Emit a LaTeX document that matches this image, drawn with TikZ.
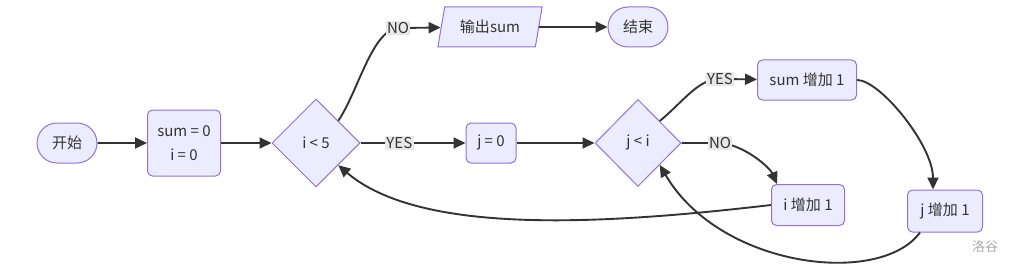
\documentclass[tikz,border=0pt]{standalone}
\usepackage{fontspec}
\setmainfont{Noto Sans CJK SC}
\usetikzlibrary{shapes.geometric,shapes.misc,arrows.meta}
\definecolor{nfill}{HTML}{ECECFF}
\definecolor{nbord}{HTML}{9370DB}
\definecolor{ink}{HTML}{333333}
\definecolor{lblbg}{HTML}{E8E8E8}
\begin{document}
\begin{tikzpicture}[x=1pt,y=-1pt, font=\fontsize{15}{24}\selectfont, text=ink,
 base/.style={draw=nbord, fill=nfill, line width=1pt, inner sep=0pt},
 boxn/.style={base, rectangle, rounded corners=5pt},
 term/.style={base, rounded rectangle, minimum width=60pt, minimum height=40pt},
 dec/.style={base, diamond, minimum width=88pt, minimum height=88pt},
 io/.style={base, trapezium, trapezium stretches=true, trapezium left angle=72, trapezium right angle=108, minimum width=105pt, minimum height=40pt},
 arr/.style={draw=ink, line width=1.9pt, -{Triangle[length=12pt,width=11pt]}},
 lbl/.style={fill=lblbg, inner sep=1.5pt, text=ink}]
\useasboundingbox (0,0) rectangle (1011,270);
\node[term] (start) at (67,143) {开始};
\node[boxn, minimum width=73pt, minimum height=66pt, align=center] (init) at (184,143) {sum = 0\\i = 0};
\node[dec] (i5) at (316,143) {i < 5};
\node[io] (out) at (490,27) {输出sum};
\node[term] (end) at (638,27) {结束};
\node[boxn, minimum width=50pt, minimum height=40pt] (j0) at (491,143) {j = 0};
\node[dec, minimum width=86pt, minimum height=87pt] (ji) at (638,143) {j < i};
\node[boxn, minimum width=99pt, minimum height=40pt] (s1) at (807,80) {sum 增加 1};
\node[boxn, minimum width=73pt, minimum height=41pt] (i1) at (808,205) {i 增加 1};
\node[boxn, minimum width=75pt, minimum height=42pt] (j1) at (945,211) {j 增加 1};
\node[text=gray!70, font=\fontsize{13}{13}\selectfont] (wm) at (985,247) {洛谷};

\draw[arr] (start) -- (init);
\draw[arr] (init) -- (i5);
\draw[arr] (i5.north east) .. controls (358,92) and (372,30) .. (398,28) node[lbl]{NO} -- (out);
\draw[arr] (out) -- (end);
\draw[arr] (i5) -- node[lbl, pos=0.37]{YES} (j0);
\draw[arr] (j0) -- (ji);
\draw[arr] (ji.north east) .. controls (685,100) and (698,79) .. (720,79) node[lbl]{YES} -- (s1);
\draw[arr] (ji.east) -- (720,143) node[lbl]{NO} .. controls (745,145) and (770,168) .. ([xshift=-31pt]i1.north);
\draw[arr] (s1.east) .. controls (880,80) and (933,145) .. ([xshift=-12pt]j1.north);
\draw[arr] ([xshift=-25pt]j1.south) .. controls (880,287) and (720,268) .. (ji.south east);
\draw[arr] (i1.west) .. controls (600,225) and (420,235) .. (i5.south east);
\end{tikzpicture}
\end{document}
